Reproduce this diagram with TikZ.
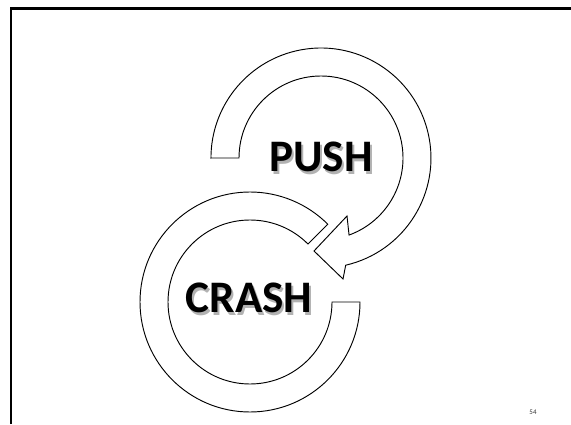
\documentclass[tikz,border=0pt]{standalone}
\usepackage{fontspec}
\setmainfont{Carlito}
\newcommand{\shadowword}[1]{\makebox[0pt][l]{\hspace{1.8pt}\raisebox{-1.8pt}{\textcolor{black!30}{#1}}}#1}

\begin{document}
\begin{tikzpicture}[x=0.03cm,y=0.03cm,line join=miter]
    \tikzstyle{ring}=[draw=black, fill=white, line width=0.8pt]
    \tikzstyle{word}=[anchor=base, inner sep=0pt, font=\fontsize{38.5}{40}\selectfont\bfseries]
    \useasboundingbox (0,0) rectangle (571,424);

    % slide frame
    \draw[line width=1.9pt] (11,0) -- (11,415.5) -- (571,415.5);

    % upper ring with arrow head
    \path[ring] (211,266) -- (239,266)
      arc[start angle=180, end angle=-70, radius=82]
      -- (347,208) -- (314,173) -- (343,145) -- (345.7,158.8)
      arc[start angle=-77, end angle=180, radius=110] -- cycle;

    % lower ring
    \path[ring] (250,122) ++(45:82)
      arc[start angle=45, end angle=360, radius=82]
      -- (360,122)
      arc[start angle=360, end angle=45, radius=110] -- cycle;

    \node[word] (push) at (321,252) {\shadowword{PUSH}};
    \node[word] (crash) at (249,111) {\shadowword{CRASH}};

    \node[font=\fontsize{6}{7}\selectfont, text=black!80] (page) at (533,12) {54};
\end{tikzpicture}
\end{document}
